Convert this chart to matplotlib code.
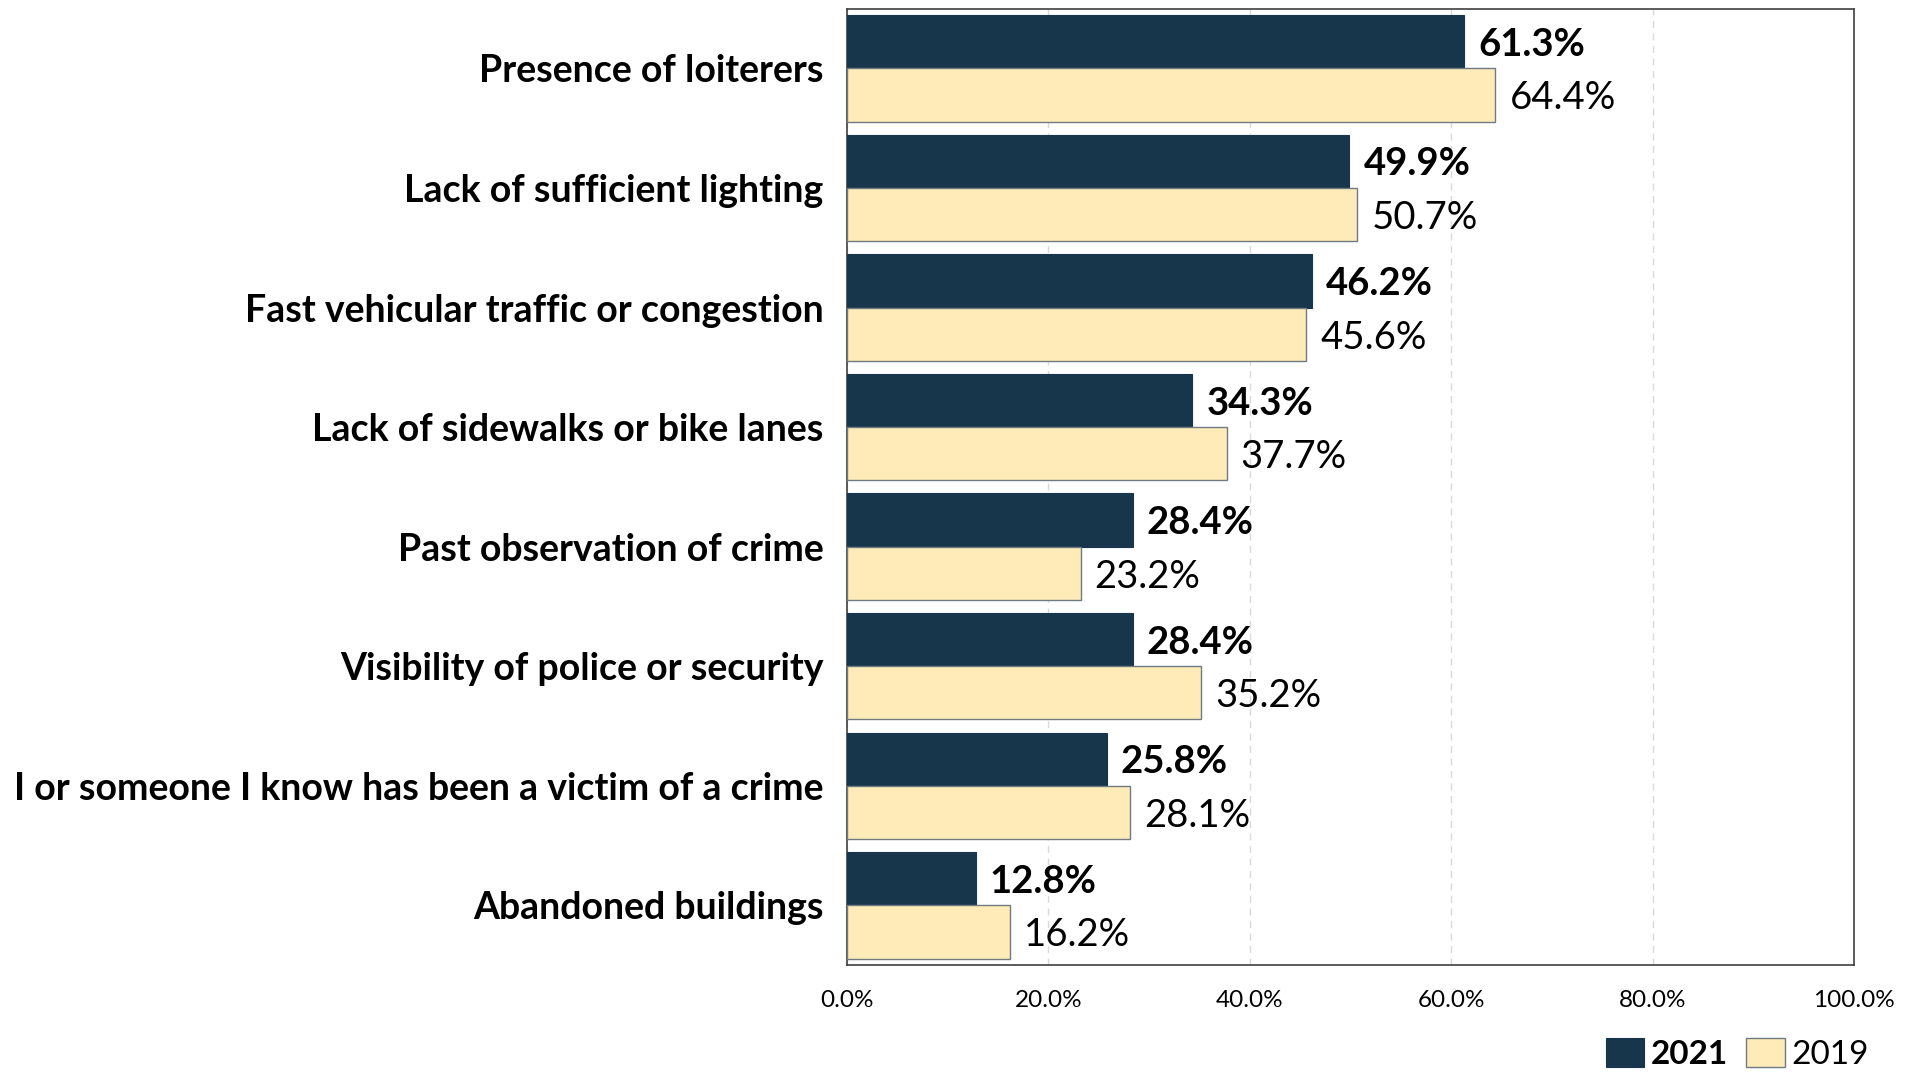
import matplotlib
matplotlib.use("Agg")
import matplotlib.pyplot as plt
import numpy as np
from matplotlib.ticker import FuncFormatter

categories = [
    "Presence of loiterers",
    "Lack of sufficient lighting",
    "Fast vehicular traffic or congestion",
    "Lack of sidewalks or bike lanes",
    "Past observation of crime",
    "Visibility of police or security",
    "I or someone I know has been a victim of a crime",
    "Abandoned buildings",
]
values_2021 = [61.3, 49.9, 46.2, 34.3, 28.4, 28.4, 25.8, 12.8]
values_2019 = [64.4, 50.7, 45.6, 37.7, 23.2, 35.2, 28.1, 16.2]
x_ticks = [0, 20, 40, 60, 80, 100]

DARK = "#17364c"
LIGHT = "#ffebb8"
FONT = "Lato"

plt.rcParams["font.family"] = [FONT, "DejaVu Sans"]

fig = plt.figure(figsize=(19.16, 10.76), dpi=100)
ax = fig.add_axes([0.442, 0.103, 0.9676 - 0.442, 0.992 - 0.103])

y = np.arange(len(categories))
h = 0.445
bars21 = ax.barh(y - h / 2, values_2021, height=h, color=DARK, edgecolor=DARK,
                 linewidth=0.8, label="2021", zorder=3)
bars19 = ax.barh(y + h / 2, values_2019, height=h, color=LIGHT, edgecolor="#6f7b80",
                 linewidth=1.0, label="2019", zorder=3)

for b, v in zip(bars21, values_2021):
    ax.text(v + 1.4, b.get_y() + b.get_height() / 2, f"{v:.1f}%", va="center_baseline",
            ha="left", fontsize=27.5, fontweight="bold", color="black")
for b, v in zip(bars19, values_2019):
    ax.text(v + 1.4, b.get_y() + b.get_height() / 2, f"{v:.1f}%", va="center_baseline",
            ha="left", fontsize=27.5, color="black")

ax.set_xlim(0, 100)
ax.set_ylim(len(categories) - 0.5, -0.5)
ax.set_yticks(y)
ax.set_yticklabels(categories, fontsize=27, fontweight="bold")
ax.set_xticks(x_ticks)
ax.xaxis.set_major_formatter(FuncFormatter(lambda v, _: f"{v:.1f}%"))
ax.tick_params(axis="x", labelsize=17.5, length=0, pad=18)
ax.tick_params(axis="y", length=0, pad=17)

ax.grid(axis="x", color="#d9d9d9", linestyle=(0, (5, 4)), linewidth=1.0, zorder=0)
for s in ax.spines.values():
    s.set_color("#404040")
    s.set_linewidth(1.2)

leg = fig.legend(handles=[bars21, bars19], labels=["2021", "2019"], loc="lower right",
                 bbox_to_anchor=(0.991, -0.022), ncol=2, frameon=False, fontsize=24,
                 handlelength=1.15, handleheight=0.95, handletextpad=0.2, columnspacing=0.55)
leg.get_texts()[0].set_fontweight("bold")

fig.savefig("out.png", dpi=100)
